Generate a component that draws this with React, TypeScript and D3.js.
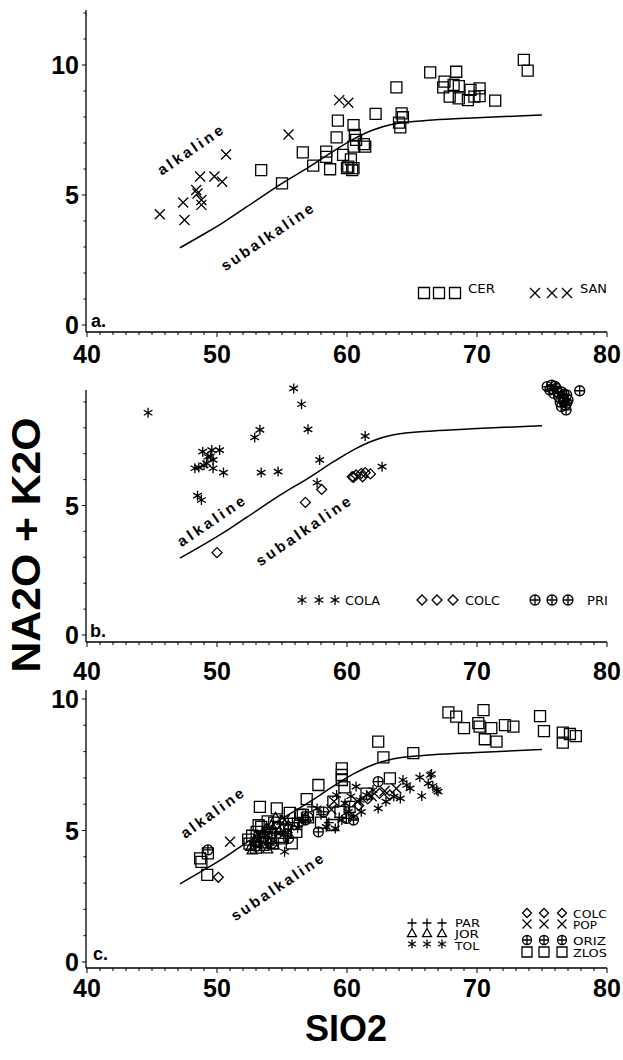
import React from 'react';
import * as d3 from 'd3';

type Pt = [number, number];
type Shape = 'square' | 'times' | 'asterisk' | 'diamond' | 'circlePlus' | 'plus' | 'triangle';

// SiO2 axis
const xDomain: Pt = [40, 80];
const xMajorTicks = [40, 50, 60, 70, 80];
const xMinorTicks = d3.range(40, 81, 1);

// Alkaline / subalkaline dividing curve (SiO2, Na2O+K2O)
const boundary: Pt[] = [
  [47.15, 2.97], [49, 3.5], [50.5, 3.95], [52.3, 4.55], [55, 5.45], [57, 6.05],
  [59, 6.7], [60.5, 7.15], [62, 7.5], [63.5, 7.72], [66.6, 7.88], [70, 7.97], [75, 8.08],
];

// Panel a
const CER: Pt[] = [
  [73.6, 10.2], [73.9, 9.78], [66.4, 9.72], [68.4, 9.74], [67.5, 9.36], [67.4, 9.14], [68.2, 9.23],
  [68.6, 9.19], [67.9, 8.78], [68.6, 8.72], [69.5, 9.04], [69.3, 8.65], [70.2, 9.1], [70.2, 8.8],
  [69.8, 8.78], [71.4, 8.63], [63.8, 9.14], [62.2, 8.12], [64.2, 8.14], [64.3, 7.99], [64.0, 7.78],
  [64.1, 7.6], [59.3, 7.86], [60.5, 7.69], [59.2, 7.22], [60.6, 7.31], [60.7, 7.12], [61.3, 6.96],
  [61.4, 6.86], [60.5, 6.86], [58.4, 6.67], [58.4, 6.47], [56.6, 6.64], [59.7, 6.54], [60.3, 6.37],
  [57.4, 6.13], [58.7, 5.99], [60.1, 6.09], [60.4, 5.96], [60.0, 6.03], [60.5, 6.03], [53.4, 5.96],
  [55.0, 5.45],
];
const SAN: Pt[] = [
  [45.6, 4.26], [47.4, 4.71], [47.5, 4.04], [48.4, 5.19], [48.5, 5.06], [48.8, 4.81], [48.8, 4.62],
  [48.7, 5.71], [49.8, 5.71], [50.4, 5.51], [50.7, 6.56], [55.5, 7.33], [59.4, 8.65], [60.1, 8.55],
];

// Panel b
const COLA: Pt[] = [
  [44.7, 8.58], [55.9, 9.52], [56.5, 8.91], [57.0, 7.94], [53.3, 7.92], [52.9, 7.63], [61.4, 7.68],
  [48.9, 7.08], [49.6, 7.14], [50.2, 7.14], [49.3, 6.88], [49.7, 6.76], [49.2, 6.63], [48.6, 6.47],
  [48.3, 6.44], [49.7, 6.44], [50.5, 6.27], [53.4, 6.27], [54.7, 6.31], [57.9, 6.76], [57.7, 5.88],
  [62.7, 6.5], [48.5, 5.38], [48.8, 5.21], [49.5, 6.9], [49.0, 6.55],
];
const COLC_B: Pt[] = [
  [50.0, 3.18], [56.8, 5.12], [58.05, 5.62], [60.4, 6.11], [60.7, 6.18], [61.1, 6.24], [61.4, 6.27],
  [61.8, 6.22], [60.5, 6.09], [61.2, 6.11],
];
const PRI: Pt[] = [
  [75.4, 9.59], [75.75, 9.65], [76.1, 9.52], [76.5, 9.39], [75.9, 9.33], [76.3, 9.2], [76.6, 9.14],
  [76.9, 9.27], [76.4, 9.0], [76.8, 8.88], [76.85, 8.69], [76.5, 8.82], [77.9, 9.43], [75.6, 9.46],
  [77.0, 9.07], [76.7, 9.0], [76.2, 9.4], [76.0, 9.6], [76.7, 9.3], [76.9, 8.95],
];

// Panel c
const PAR: Pt[] = [
  [55.8, 5.3], [58.0, 5.6], [59.4, 5.5], [60.2, 5.9], [57.3, 5.9], [54.5, 4.9], [56.5, 5.5], [58.6, 5.3],
];
const JOR: Pt[] = [
  [52.7, 4.26], [53.2, 4.5], [53.6, 4.4], [54.0, 4.6], [53.5, 4.9], [54.2, 5.2], [54.5, 5.5],
  [55.0, 5.4], [53.8, 5.1], [54.8, 5.0], [55.5, 5.2], [52.9, 4.6], [52.6, 4.4], [53.1, 4.75],
  [53.9, 4.3], [54.4, 4.45], [55.2, 4.85],
];
const TOL: Pt[] = [
  [66.5, 7.15], [65.6, 7.02], [64.3, 6.92], [66.25, 6.79], [66.6, 6.69], [67.0, 6.48], [65.75, 6.31],
  [64.85, 6.6], [64.1, 6.22], [63.6, 6.29], [62.4, 5.84], [61.1, 5.71], [61.0, 6.16], [61.5, 6.35],
  [62.0, 6.54], [60.7, 6.67], [59.1, 5.08], [57.7, 5.84], [55.2, 4.19], [59.2, 6.35], [59.85, 6.03],
  [60.1, 5.71], [60.5, 5.52], [59.6, 5.4], [58.4, 5.14], [64.6, 6.73], [66.4, 7.11], [66.9, 6.54],
  [60.3, 6.3], [63.0, 6.1], [54.0, 4.9], [55.5, 5.0], [56.2, 5.1],
];
const COLC_C: Pt[] = [[50.1, 3.22], [63.3, 6.35], [62.5, 6.41], [61.6, 6.2], [60.9, 5.95]];
const POP: Pt[] = [
  [51.0, 4.57], [62.9, 6.5], [61.9, 6.3], [60.8, 6.1], [55.2, 5.4], [58.8, 5.8], [63.8, 6.6], [59.0, 6.1],
];
const ORIZ: Pt[] = [
  [49.3, 4.26], [57.8, 4.95], [54.2, 4.51], [60.5, 5.4], [62.4, 6.86], [59.95, 5.46], [58.2, 5.71],
  [57.0, 5.5], [56.3, 5.3], [53.6, 4.7], [53.0, 4.4], [55.5, 4.7], [56.8, 5.4],
];
const ZLOS: Pt[] = [
  [67.8, 9.49], [68.4, 9.33], [70.5, 9.58], [70.1, 9.08], [70.2, 8.95], [69.0, 8.89], [71.1, 8.89],
  [72.15, 9.01], [72.8, 8.95], [70.6, 8.47], [71.5, 8.38], [74.85, 9.35], [75.15, 8.78], [76.6, 8.72],
  [76.6, 8.34], [77.15, 8.67], [77.6, 8.59], [62.4, 8.38], [62.8, 7.78], [65.1, 7.94], [59.6, 7.36],
  [59.6, 7.11], [59.6, 6.92], [59.8, 6.64], [57.8, 6.73], [63.3, 6.98], [56.9, 6.19], [53.3, 5.9],
  [54.6, 5.84], [56.6, 5.59], [53.05, 4.95], [53.3, 4.76], [54.85, 4.76], [55.75, 4.51], [56.1, 4.95],
  [54.3, 4.51], [48.7, 3.94], [48.8, 3.81], [49.3, 4.13], [49.25, 3.31], [58.9, 5.21], [59.5, 5.71],
  [58.95, 6.1], [55.6, 5.67], [53.4, 5.14], [53.8, 4.76], [55.0, 4.7], [52.7, 4.8], [53.2, 5.2],
  [54.4, 5.3], [57.0, 5.5], [58.0, 5.3], [60.2, 5.9], [61.5, 6.4], [52.5, 4.5], [53.0, 4.35],
  [53.7, 4.55], [54.1, 4.9], [54.7, 5.1], [55.3, 5.0], [52.4, 4.65], [53.9, 5.35], [55.9, 5.25],
  [56.4, 5.6],
];

function shapePath(shape: Shape, s: number): string {
  const h = s / 2;
  switch (shape) {
    case 'square':
      return `M${-h},${-h}h${s}v${s}h${-s}Z`;
    case 'times':
      return `M${-h},${-h}L${h},${h}M${-h},${h}L${h},${-h}`;
    case 'plus':
      return `M${-h},0H${h}M0,${-h}V${h}`;
    case 'asterisk': {
      const a = h * Math.cos(Math.PI / 6);
      const b = h * Math.sin(Math.PI / 6);
      return `M0,${-h}V${h}M${-a},${-b}L${a},${b}M${-a},${b}L${a},${-b}`;
    }
    case 'diamond':
      return `M0,${-h}L${h},0L0,${h}L${-h},0Z`;
    case 'triangle':
      return `M0,${-h}L${h},${h * 0.8}L${-h},${h * 0.8}Z`;
    case 'circlePlus':
      return `M${h},0A${h},${h} 0 1,1 ${-h},0A${h},${h} 0 1,1 ${h},0ZM${-h},0H${h}M0,${-h}V${h}`;
  }
}

interface Series { data: Pt[]; shape: Shape; size: number; }
interface LegendItem { shape: Shape; size: number; xs: number[]; y: number; label: string; tx: number; ty: number; tl: number; fs: number; }
interface RotLabel { text: string; cx: number; cy: number; angle: number; len: number; }

interface PanelProps {
  y0: number;          // pixel of Na2O+K2O = 0
  y10: number;         // pixel of Na2O+K2O = 10
  topPx: number;       // top end of the y axis
  xAxisY: number;      // pixel row of the SiO2 axis line
  labelBaseline: number;
  yLabels: number[];
  minorMax: number;
  tag: string;
  tagPos: Pt;
  series: Series[];
  legend: LegendItem[];
  labels: RotLabel[];
}

const x = d3.scaleLinear().domain(xDomain).range([87, 607]);
const yAxisX = 86;

const FONT = '"Liberation Sans", Arial, Helvetica, sans-serif';
const PLOT_FONT = '"DejaVu Sans", "Liberation Sans", sans-serif';

function Panel(p: PanelProps) {
  const y = d3.scaleLinear().domain([0, 10]).range([p.y0, p.y10]);
  const line = d3.line<Pt>().x(d => x(d[0])).y(d => y(d[1])).curve(d3.curveMonotoneX);
  const yMinor = d3.range(0, p.minorMax + 1, 1);
  return (
    <g>
      {/* axes */}
      <line x1={yAxisX} x2={yAxisX} y1={p.topPx} y2={p.xAxisY} stroke="#000" strokeWidth={1.3} />
      <line x1={yAxisX} x2={x(80)} y1={p.xAxisY} y2={p.xAxisY} stroke="#000" strokeWidth={1.3} />
      {yMinor.map(v => (
        <line key={`ym${v}`} x1={yAxisX - (v % 5 === 0 ? 4 : 2.5)} x2={yAxisX} y1={y(v)} y2={y(v)} stroke="#000" strokeWidth={1} />
      ))}
      {xMinorTicks.map(v => (
        <line key={`xm${v}`} x1={x(v)} x2={x(v)} y1={p.xAxisY} y2={p.xAxisY + (v % 10 === 0 ? 5 : 3)} stroke="#000" strokeWidth={1} />
      ))}
      {p.yLabels.map(v => (
        <text key={`yl${v}`} x={79} y={y(v)} dy="0.36em" textAnchor="end" fontFamily={FONT} fontWeight="bold" fontSize={25}>{v}</text>
      ))}
      {xMajorTicks.map(v => (
        <text key={`xl${v}`} x={x(v)} y={p.labelBaseline} textAnchor="middle" fontFamily={FONT} fontWeight="bold" fontSize={25}>{v}</text>
      ))}
      <text x={p.tagPos[0]} y={p.tagPos[1]} fontFamily={FONT} fontWeight="bold" fontSize={18}>{p.tag}</text>

      {/* dividing curve */}
      <path d={line(boundary) || ''} fill="none" stroke="#000" strokeWidth={1.5} />
      {p.labels.map((l, i) => (
        <text key={`rl${i}`} transform={`translate(${l.cx},${l.cy}) rotate(${l.angle})`} textAnchor="middle" dy="0.35em"
          fontFamily={FONT} fontWeight="bold" fontSize={15} textLength={l.len} lengthAdjust="spacing">{l.text}</text>
      ))}

      {/* samples */}
      {p.series.map((s, si) => (
        <g key={`s${si}`}>
          {s.data.map((d, i) => (
            <path key={i} transform={`translate(${x(d[0])},${y(d[1])})`} d={shapePath(s.shape, s.size)} fill="none" stroke="#000" strokeWidth={1.3} />
          ))}
        </g>
      ))}

      {/* legend */}
      {p.legend.map((l, li) => (
        <g key={`lg${li}`}>
          {l.xs.map((lx, i) => (
            <path key={i} transform={`translate(${lx},${l.y})`} d={shapePath(l.shape, l.size)} fill="none" stroke="#000" strokeWidth={1.3} />
          ))}
          <text x={l.tx} y={l.ty} fontFamily={PLOT_FONT} fontSize={l.fs} textLength={l.tl} lengthAdjust="spacingAndGlyphs">{l.label}</text>
        </g>
      ))}
    </g>
  );
}

export default function App() {
  return (
    <svg width={623} height={1060} viewBox="0 0 623 1060" style={{ position: 'absolute', left: 0, top: 0, background: '#fff' }}>
      <rect width={623} height={1060} fill="#fff" />
      <Panel
        y0={325} y10={65} topPx={10} xAxisY={332} labelBaseline={363}
        yLabels={[0, 5, 10]} minorMax={12} tag="a." tagPos={[91, 327]}
        series={[
          { data: SAN, shape: 'times', size: 10 },
          { data: CER, shape: 'square', size: 11 },
        ]}
        legend={[
          { shape: 'square', size: 11, xs: [424, 439, 455], y: 293, label: 'CER', tx: 468, ty: 293, tl: 27, fs: 12 },
          { shape: 'times', size: 10, xs: [535, 552, 567], y: 293, label: 'SAN', tx: 580, ty: 293, tl: 27, fs: 12 },
        ]}
        labels={[
          { text: 'alkaline', cx: 190, cy: 150, angle: -34.5, len: 76 },
          { text: 'subalkaline', cx: 267, cy: 237, angle: -34, len: 108 },
        ]}
      />
      <Panel
        y0={635} y10={376} topPx={390} xAxisY={642} labelBaseline={680}
        yLabels={[0, 5]} minorMax={9} tag="b." tagPos={[90, 637]}
        series={[
          { data: COLA, shape: 'asterisk', size: 10 },
          { data: COLC_B, shape: 'diamond', size: 10 },
          { data: PRI, shape: 'circlePlus', size: 10 },
        ]}
        legend={[
          { shape: 'asterisk', size: 10, xs: [302, 319, 335], y: 600, label: 'COLA', tx: 345, ty: 605, tl: 35, fs: 12 },
          { shape: 'diamond', size: 10, xs: [422, 437, 453], y: 600, label: 'COLC', tx: 465, ty: 605, tl: 35, fs: 12 },
          { shape: 'circlePlus', size: 10, xs: [535, 552, 568], y: 600, label: 'PRI', tx: 587, ty: 605, tl: 21, fs: 12 },
        ]}
        labels={[
          { text: 'alkaline', cx: 211, cy: 521, angle: -34, len: 78 },
          { text: 'subalkaline', cx: 303, cy: 531, angle: -34.4, len: 111 },
        ]}
      />
      <Panel
        y0={962} y10={699} topPx={690} xAxisY={968} labelBaseline={997}
        yLabels={[0, 5, 10]} minorMax={10} tag="c." tagPos={[93, 960]}
        series={[
          { data: TOL, shape: 'asterisk', size: 10 },
          { data: JOR, shape: 'triangle', size: 10 },
          { data: PAR, shape: 'plus', size: 10 },
          { data: POP, shape: 'times', size: 10 },
          { data: ORIZ, shape: 'circlePlus', size: 10 },
          { data: COLC_C, shape: 'diamond', size: 10 },
          { data: ZLOS, shape: 'square', size: 11 },
        ]}
        legend={[
          { shape: 'plus', size: 9, xs: [412, 427, 442], y: 923, label: 'PAR', tx: 455, ty: 927, tl: 25, fs: 11 },
          { shape: 'triangle', size: 9, xs: [412, 427, 442], y: 933, label: 'JOR', tx: 455, ty: 938, tl: 24, fs: 11 },
          { shape: 'asterisk', size: 9, xs: [412, 427, 442], y: 944, label: 'TOL', tx: 455, ty: 950, tl: 24, fs: 11 },
          { shape: 'diamond', size: 9, xs: [527, 544, 562], y: 913, label: 'COLC', tx: 573, ty: 918, tl: 34, fs: 11 },
          { shape: 'times', size: 9, xs: [527, 544, 562], y: 924, label: 'POP', tx: 573, ty: 929, tl: 24, fs: 11 },
          { shape: 'circlePlus', size: 9, xs: [527, 544, 562], y: 940, label: 'ORIZ', tx: 573, ty: 945, tl: 33, fs: 11 },
          { shape: 'square', size: 10, xs: [527, 544, 562], y: 952, label: 'ZLOS', tx: 573, ty: 957, tl: 34, fs: 11 },
        ]}
        labels={[
          { text: 'alkaline', cx: 212, cy: 813, angle: -36, len: 74 },
          { text: 'subalkaline', cx: 277, cy: 887, angle: -34, len: 108 },
        ]}
      />
      <text transform="translate(40,545) rotate(-90)" textAnchor="middle" fontFamily={FONT} fontWeight="bold" fontSize={40}
        textLength={255} lengthAdjust="spacingAndGlyphs">NA2O + K2O</text>
      <text x={346} y={1041} textAnchor="middle" fontFamily={FONT} fontWeight="bold" fontSize={36}
        textLength={82} lengthAdjust="spacingAndGlyphs">SIO2</text>
    </svg>
  );
}
